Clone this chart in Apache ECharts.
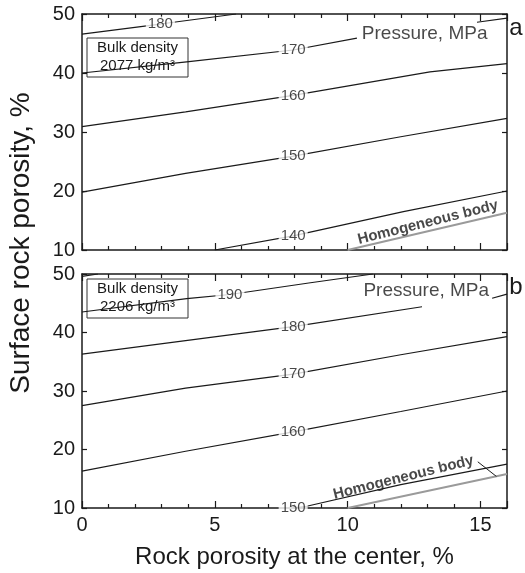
<!DOCTYPE html>
<html><head><meta charset="utf-8">
<script src="https://cdn.jsdelivr.net/npm/echarts@6.0.0/dist/echarts.min.js"></script>
<style>html,body{margin:0;padding:0;background:#fff}#c{width:525px;height:573px}</style>
</head><body><div id="c"></div>
<script>
// ---- axes ----
const xMin = 0, xMax = 16, xStep = 5;
const yMin = 10, yMax = 50, yStep = 10;

// ---- panel a (bulk density 2077 kg/m3) : contour segments [x, y] ----
const a180 = [[[0, 46.6], [2.95, 48.3], [5.8, 50]]];
const a170 = [[[0, 40.0], [3.94, 41.9], [7.95, 43.9], [10.35, 45.9]], [[14.87, 48.6], [16, 49.3]]];
const a160 = [[[0, 30.9], [3.9, 33.4], [7.95, 36.2], [13.1, 40.2], [16, 41.6]]];
const a150 = [[[0, 19.8], [3.9, 23.0], [7.95, 25.9], [12, 29.2], [16, 32.3]]];
const a140 = [[[5.0, 10], [7.95, 12.4], [12.1, 16.5], [16, 20.0]]];
const aHomog = [[10.0, 10], [16, 16.3]];
const aLabels = [[2.95, 48.3, '180'], [7.95, 43.9, '170'], [7.95, 36.2, '160'], [7.95, 25.9, '150'], [7.95, 12.4, '140']];

// ---- panel b (bulk density 2206 kg/m3) ----
const b200 = [[[0, 49.6], [0.6, 50]]];
const b190 = [[[0, 43.5], [3.94, 45.8], [5.57, 46.5], [8.6, 48.5], [10.95, 50]]];
const b180 = [[[0, 36.3], [3.9, 38.6], [7.95, 41.0], [12.8, 44.4]], [[15.44, 45.85], [16, 46.55]]];
const b170 = [[[0, 27.5], [3.9, 30.5], [7.95, 32.9], [12, 36.2], [16, 39.3]]];
const b160 = [[[0, 16.3], [3.9, 19.7], [7.95, 23.0], [12, 26.5], [16, 30.0]]];
const b150 = [[[7.95, 10], [8.46, 10.3], [12, 14.0], [16, 17.5]]];
const bHomog = [[10.0, 10], [16, 15.8]];
const bLeader = [[14.9, 17.9], [15.6, 15.4]];
const bLabels = [[5.57, 46.5, '190'], [7.95, 41.0, '180'], [7.95, 32.9, '170'], [7.95, 23.0, '160'], [7.95, 10, '150']];

// ---- annotations (data coords) ----
const pressureText = 'Pressure, MPa';
const pressurePos = [[12.9, 46.7], [12.96, 47.1]];
const homogText = 'Homogeneous body';
const homogPos = [[13.02, 14.66], [12.1, 15.2]];
const densityText = [['Bulk density', '2077 kg/m³'], ['Bulk density', '2206 kg/m³']];
const panelLetters = ['a', 'b'];

const FONT = "'Liberation Sans', Arial, sans-serif";
const INK = '#1a1a1a';

const chart = echarts.init(document.getElementById('c'), null, {renderer: 'canvas'});

function xAx(g, pos, labels) {
  return {
    gridIndex: g, type: 'value', min: xMin, max: xMax, interval: xStep, position: pos,
    axisLine: {show: true, onZero: false, lineStyle: {color: INK, width: 1.5}},
    axisTick: {show: true, inside: true, length: 7, lineStyle: {color: INK, width: 1.2}},
    minorTick: {show: true, splitNumber: 5, length: 4, lineStyle: {color: INK, width: 1.2}},
    axisLabel: {show: labels, showMaxLabel: false, fontSize: 20, color: INK, margin: 7, fontFamily: FONT},
    splitLine: {show: false},
    name: labels ? 'Rock porosity at the center, %' : '',
    nameLocation: 'middle', nameGap: 37,
    nameTextStyle: {fontSize: 24, color: INK, fontFamily: FONT}
  };
}
function yAx(g, pos, labels) {
  return {
    gridIndex: g, type: 'value', min: yMin, max: yMax, interval: yStep, position: pos,
    axisLine: {show: true, onZero: false, lineStyle: {color: INK, width: 1.5}},
    axisTick: {show: true, inside: true, length: 5, lineStyle: {color: INK, width: 1.2}},
    axisLabel: {show: labels, fontSize: 20, color: INK, margin: 7, fontFamily: FONT},
    splitLine: {show: false}
  };
}

const series = [];
function addLines(segs, g, color, width) {
  segs.forEach(seg => series.push({
    type: 'line', xAxisIndex: g * 2, yAxisIndex: g * 2, data: seg,
    symbol: 'none', silent: true, animation: false, clip: true, z: 2,
    lineStyle: {color: color, width: width}
  }));
}
function addTexts(items, g, labelOpt) {
  series.push({
    type: 'scatter', xAxisIndex: g * 2, yAxisIndex: g * 2, symbolSize: 1, silent: true,
    animation: false, clip: false, z: 5,
    itemStyle: {color: 'rgba(0,0,0,0)'},
    data: items.map(it => ({value: [it[0], it[1]], name: it[2]})),
    label: Object.assign({show: true, position: 'inside', formatter: p => p.name,
      color: INK, fontFamily: FONT}, labelOpt)
  });
}

[a180, a170, a160, a150, a140].forEach(s => addLines(s, 0, INK, 1.2));
addLines([aHomog], 0, '#9a9a9a', 2);
[b200, b190, b180, b170, b160, b150].forEach(s => addLines(s, 1, INK, 1.2));
addLines([bHomog], 1, '#9a9a9a', 2);
addLines([bLeader], 1, INK, 1);

addTexts(aLabels, 0, {fontSize: 15, backgroundColor: '#fff', padding: [0, 2]});
addTexts(bLabels, 1, {fontSize: 15, backgroundColor: '#fff', padding: [0, 2]});
[0, 1].forEach(g => {
  addTexts([[pressurePos[g][0], pressurePos[g][1], pressureText]], g, {fontSize: 19});
  addTexts([[homogPos[g][0], homogPos[g][1], homogText]], g, {fontSize: 15, fontWeight: 'bold', rotate: 14});
});

const grids = [
  {left: 82, top: 14, width: 425, height: 236},
  {left: 82, top: 274, width: 425, height: 234}
];

function densityBox(g) {
  const y0 = g === 0 ? 38 : 279;
  return {
    type: 'group', z: 100, children: [
      {type: 'rect', shape: {x: 87, y: y0, width: 101, height: 39},
        style: {fill: '#fff', stroke: '#333', lineWidth: 1}},
      {type: 'text', style: {x: 137.5, y: y0 + 10, text: densityText[g][0], font: '15px ' + FONT,
        fill: INK, textAlign: 'center', textVerticalAlign: 'middle'}},
      {type: 'text', style: {x: 137.5, y: y0 + 28, text: densityText[g][1], font: '15px ' + FONT,
        fill: INK, textAlign: 'center', textVerticalAlign: 'middle'}}
    ]
  };
}

chart.setOption({
  animation: false,
  backgroundColor: '#fff',
  grid: grids,
  xAxis: [xAx(0, 'bottom', false), xAx(0, 'top', false), xAx(1, 'bottom', true), xAx(1, 'top', false)],
  yAxis: [yAx(0, 'left', true), yAx(0, 'right', false), yAx(1, 'left', true), yAx(1, 'right', false)],
  series: series,
  graphic: [
    {type: 'text', x: 21, y: 243, rotation: Math.PI / 2, z: 100,
      style: {text: 'Surface rock porosity, %', font: '28px ' + FONT, fill: INK,
        textAlign: 'center', textVerticalAlign: 'middle'}},
    {type: 'text', z: 100, style: {x: 516, y: 28, text: panelLetters[0], font: '24px ' + FONT, fill: INK,
      textAlign: 'center', textVerticalAlign: 'middle'}},
    {type: 'text', z: 100, style: {x: 516, y: 287, text: panelLetters[1], font: '24px ' + FONT, fill: INK,
      textAlign: 'center', textVerticalAlign: 'middle'}},
    densityBox(0), densityBox(1)
  ]
});
</script>
</body></html>
